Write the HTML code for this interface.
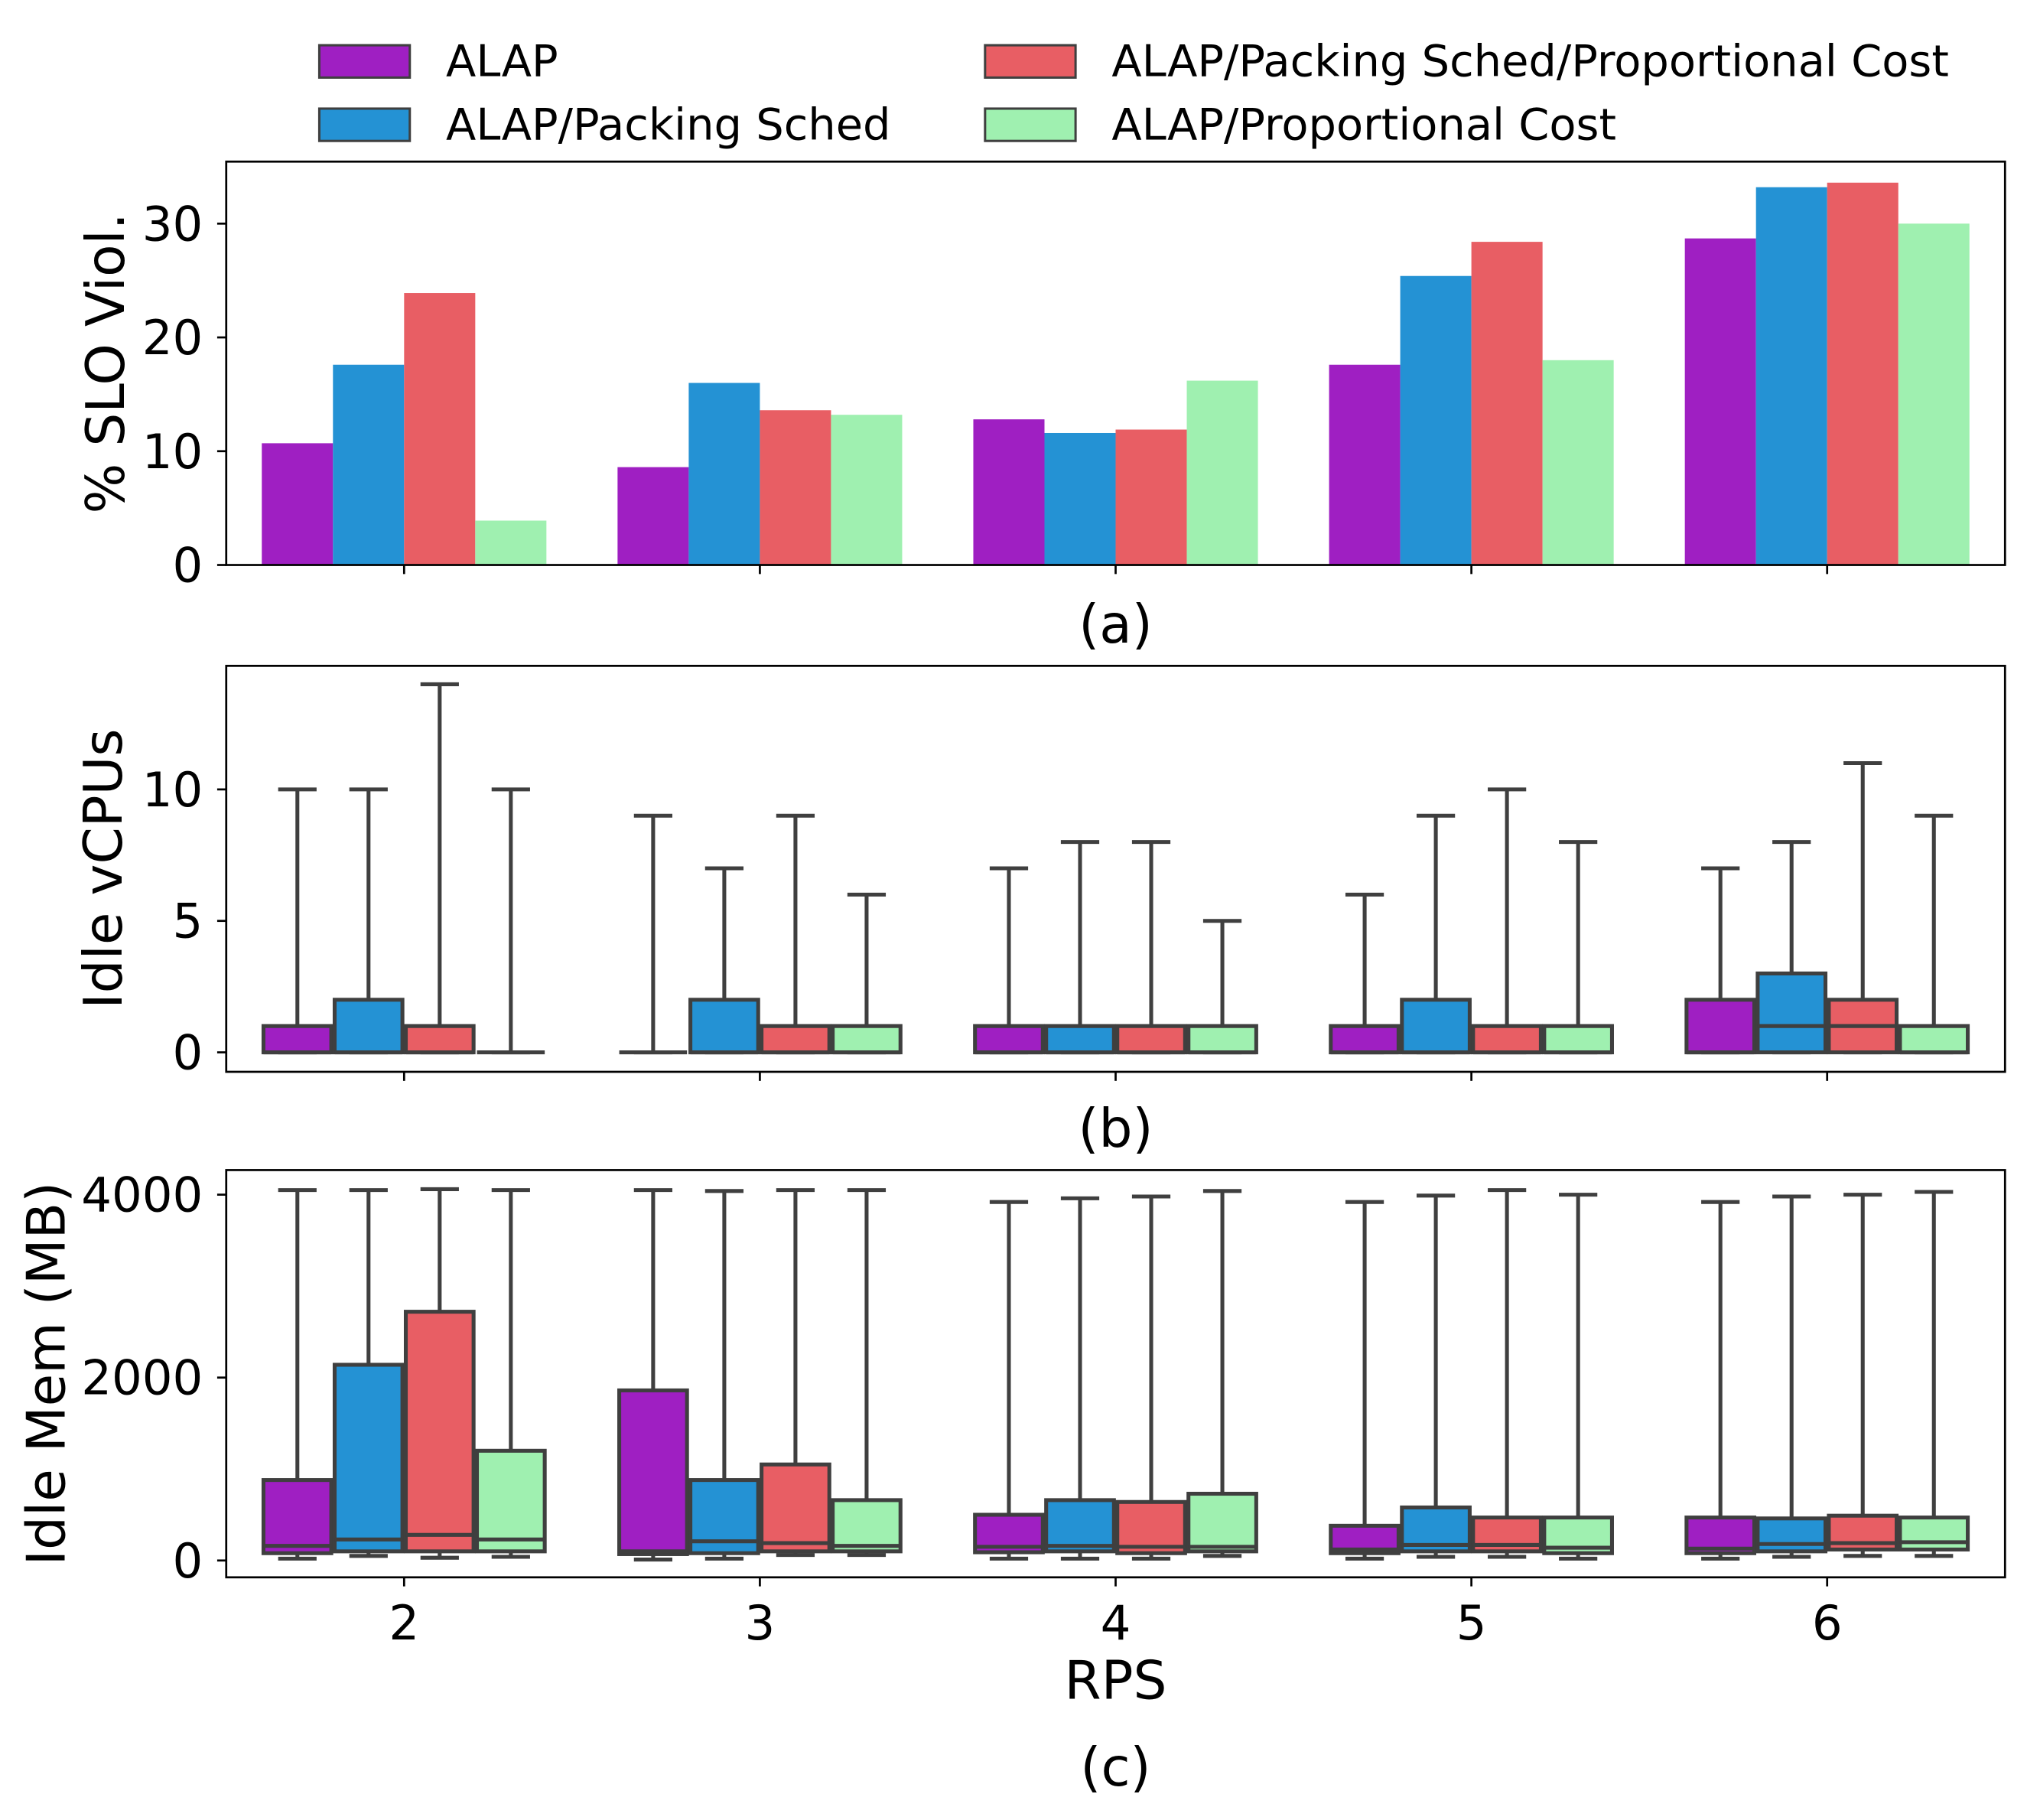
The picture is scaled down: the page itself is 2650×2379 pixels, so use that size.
<!DOCTYPE html>
<html><head><meta charset="utf-8">
<style>
html,body{margin:0;padding:0;background:#fff;}
svg{display:block;font-family:"DejaVu Sans","Liberation Sans",sans-serif;}
</style></head>
<body>
<svg id="chart" xmlns="http://www.w3.org/2000/svg" width="2650" height="2379" viewBox="0 0 1568 1407.7" preserveAspectRatio="none">
<rect x="0" y="0" width="1568" height="1408" fill="#fff"/>
</svg>
<script>
const categories = ["2","3","4","5","6"];
const seriesNames = ["ALAP","ALAP/Packing Sched","ALAP/Packing Sched/Proportional Cost","ALAP/Proportional Cost"];
const colors = ["#9f1fc2","#2492d4","#e85e64","#9ff0b0"];
// panel (a): % SLO violation per series, per category
const sloALAP = [10.7, 8.6, 12.8, 17.6, 28.7];
const sloPack = [17.6, 16.0, 11.6, 25.4, 33.2];
const sloPackProp = [23.9, 13.6, 11.9, 28.4, 33.6];
const sloProp = [3.9, 13.2, 16.2, 18.0, 30.0];
const sloTicks = [0, 10, 20, 30];
// panel (b): idle vCPUs boxes [whislo, q1, median, q3, whishi]
const cpuALAP = [[0,0,0,1,10],[0,0,0,0,9],[0,0,0,1,7],[0,0,0,1,6],[0,0,0,2,7]];
const cpuPack = [[0,0,0,2,10],[0,0,0,2,7],[0,0,0,1,8],[0,0,0,2,9],[0,0,1,3,8]];
const cpuPackProp = [[0,0,0,1,14],[0,0,0,1,9],[0,0,0,1,8],[0,0,0,1,10],[0,0,1,2,11]];
const cpuProp = [[0,0,0,0,10],[0,0,0,1,6],[0,0,0,1,5],[0,0,0,1,8],[0,0,0,1,9]];
const cpuTicks = [0, 5, 10];
// panel (c): idle memory boxes [whislo, q1, median, q3, whishi]
const memALAP = [[20,80,160,880,4050],[10,70,100,1860,4050],[20,90,150,500,3920],[20,80,120,380,3920],[20,80,130,470,3920]];
const memPack = [[50,100,230,2140,4050],[20,80,210,880,4040],[20,100,160,660,3960],[40,100,170,580,3990],[40,100,180,460,3980]];
const memPackProp = [[30,100,280,2720,4060],[60,100,190,1050,4050],[20,80,150,640,3980],[40,100,170,470,4050],[50,120,190,490,4000]];
const memProp = [[40,100,230,1200,4050],[60,100,160,660,4050],[50,100,150,730,4040],[20,80,140,470,4000],[50,120,200,470,4030]];
const memTicks = [0, 2000, 4000];

const NS = "http://www.w3.org/2000/svg";
const svg = document.getElementById("chart");
const FS = 34, TFS = 37, LFS = 41;
function mk(tag, attrs, parent) {
  const e = document.createElementNS(NS, tag);
  for (const k in attrs) e.setAttribute(k, attrs[k]);
  (parent || svg).appendChild(e);
  return e;
}
const X0 = 175, X1 = 1551;
const nCat = categories.length;
function xCenter(i) { return X0 + (i + 0.5) * (X1 - X0) / nCat; }
const groupW = 0.8 * (X1 - X0) / nCat;
const barW = groupW / seriesNames.length;
function xBar(i, s) { return xCenter(i) - groupW / 2 + s * barW; }
function yScale(top, bottom, vmin, vmax) { return v => bottom - (v - vmin) / (vmax - vmin) * (bottom - top); }

function frame(name, top, bottom, y, ticks, label, labelX, showXLabels) {
  const g = mk("g", {});
  
  
  ticks.forEach(t => {
    const yy = y(t);
    const tl = mk("line", {x1: X0 - 7, x2: X0, y1: yy, y2: yy, stroke: "#000", "stroke-width": 1.6}, g);
    
    
    const tx = mk("text", {x: X0 - 18, y: yy + 13, "text-anchor": "end", "font-size": TFS}, g);
    tx.textContent = t;
    
    
  });
  categories.forEach((c, i) => {
    const xx = xCenter(i);
    const tl = mk("line", {x1: xx, x2: xx, y1: bottom, y2: bottom + 7, stroke: "#000", "stroke-width": 1.6}, g);
    
    
    if (showXLabels) {
      const tx = mk("text", {x: xx, y: bottom + 48, "text-anchor": "middle", "font-size": TFS}, g);
      tx.textContent = c;
      
      
    }
  });
  const yl = mk("text", {x: 0, y: 0, "text-anchor": "middle", "font-size": LFS, transform: `translate(${labelX},${(top + bottom) / 2}) rotate(-90)`}, g);
  yl.textContent = label;
  
  
  return g;
}
function border(name, top, bottom) {
  const r = mk("rect", {x: X0, y: top, width: X1 - X0, height: bottom - top, fill: "none", stroke: "#000", "stroke-width": 1.6});
  
  
}

// Panel (a)
const aTop = 125, aBot = 437;
const ya = yScale(aTop, aBot, 0, 35.45);
frame("slo", aTop, aBot, ya, sloTicks, "% SLO Viol.", 96, false);
[sloALAP, sloPack, sloPackProp, sloProp].forEach((arr, s) => {
  arr.forEach((v, i) => {
    const r = mk("rect", {x: xBar(i, s), y: ya(v), width: barW, height: ya(0) - ya(v), fill: colors[s]});
    
    
  });
});
border("slo", aTop, aBot);

function boxes(name, data, y) {
  data.forEach((arr, s) => {
    arr.forEach((b, i) => {
      const g = mk("g", {});
      
      
      const x = xBar(i, s), cx = x + barW / 2, cap = barW * 0.27;
      const st = {stroke: "#3f3f3f", "stroke-width": 3};
      mk("line", Object.assign({x1: cx, x2: cx, y1: y(b[3]), y2: y(b[4])}, st), g);
      mk("line", Object.assign({x1: cx, x2: cx, y1: y(b[1]), y2: y(b[0])}, st), g);
      mk("line", Object.assign({x1: cx - cap, x2: cx + cap, y1: y(b[4]), y2: y(b[4])}, st), g);
      mk("line", Object.assign({x1: cx - cap, x2: cx + cap, y1: y(b[0]), y2: y(b[0])}, st), g);
      mk("rect", Object.assign({x: x + 1.3, y: y(b[3]), width: barW - 2.6, height: Math.max(0, y(b[1]) - y(b[3])), fill: colors[s]}, st), g);
      mk("line", Object.assign({x1: x + 1.3, x2: x + barW - 1.3, y1: y(b[2]), y2: y(b[2])}, st), g);
    });
  });
}

// Panel (b)
const bTop = 515, bBot = 829;
const yb = yScale(bTop, bBot, -0.74, 14.7);
frame("cpu", bTop, bBot, yb, cpuTicks, "Idle vCPUs", 94, false);
boxes("cpu", [cpuALAP, cpuPack, cpuPackProp, cpuProp], yb);
border("cpu", bTop, bBot);

// Panel (c)
const cTop = 905, cBot = 1220;
const yc = yScale(cTop, cBot, -184, 4269);
frame("mem", cTop, cBot, yc, memTicks, "Idle Mem (MB)", 50, true);
boxes("mem", [memALAP, memPack, memPackProp, memProp], yc);
border("mem", cTop, cBot);

// captions
[["(a)", 483, "caption-a"], ["(b)", 873, "caption-b"], ["RPS", 1300, "x-axis-title"], ["(c)", 1367, "caption-c"]].forEach(c => {
  const t = mk("text", {x: 863, y: c[1] + 14, "text-anchor": "middle", "font-size": LFS});
  t.textContent = c[0];
  
  
});

// legend
const legPos = [[247, 35], [247, 84], [762, 35], [762, 84]];
const legOrder = [0, 1, 2, 3];
legOrder.forEach((s, k) => {
  const g = mk("g", {});
  
  
  const p = legPos[k];
  mk("rect", {x: p[0], y: p[1], width: 70, height: 25, fill: colors[s], stroke: "#3f3f3f", "stroke-width": 1.8}, g);
  const t = mk("text", {x: p[0] + 98, y: p[1] + 24, "font-size": FS}, g);
  t.textContent = seriesNames[s];
});
</script>
</body></html>
